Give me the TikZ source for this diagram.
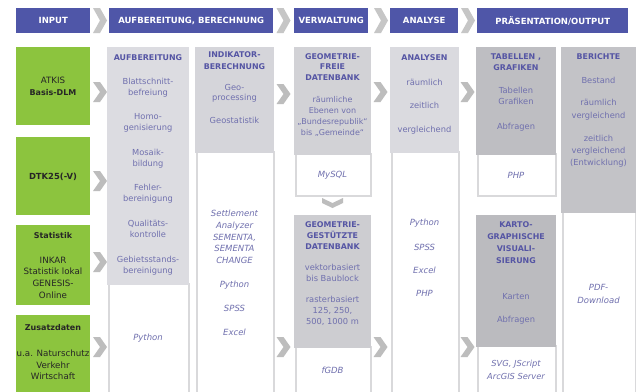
\documentclass[tikz,border=0pt]{standalone}
\usepackage{fontspec}
\setmainfont{DejaVu Sans}
\begin{document}
\begin{tikzpicture}[x=1pt,y=-1pt,
  hdr/.style={fill=hdrblue,text=white,font=\bfseries\fontsize{8.5}{10}\selectfont,inner sep=0pt,anchor=north west},
  grn/.style={fill=grgreen,inner sep=0pt,anchor=north west,minimum width=74pt},
  col/.style={inner sep=0pt,anchor=north west},
  wcol/.style={fill=white,draw=bordgray,line width=1.6pt,inner sep=0pt,anchor=north west},
  txt/.style={text=txtblue,font=\fontsize{8.3}{11.2}\selectfont,align=center,inner sep=0pt},
  ttl/.style={text=ttlblue,font=\bfseries\fontsize{7.9}{10.5}\selectfont,align=center,inner sep=0pt},
  itl/.style={text=txtblue,font=\itshape\fontsize{8.5}{12}\selectfont,align=center,inner sep=0pt},
  gtxt/.style={text=black!85,font=\fontsize{8.7}{11.7}\selectfont,align=center,inner sep=0pt},
  gttl/.style={text=black!85,font=\bfseries\fontsize{8}{11}\selectfont,align=center,inner sep=0pt},
  chev/.pic={\fill[chevgray] (-7,-10) -- (0,-10) -- (7,0) -- (0,10) -- (-7,10) -- (0,0) -- cycle;},
  bigchev/.pic={\fill[hchevgray] (-7,-12.5) -- (0,-12.5) -- (7,0) -- (0,12.5) -- (-7,12.5) -- (0,0) -- cycle;},
  downchev/.pic={\fill[chevgray] (-10.5,-5) -- (-10.5,0) -- (0,5) -- (10.5,0) -- (10.5,-5) -- (0,0) -- cycle;}
]
\definecolor{hdrblue}{HTML}{4F56A8}
\definecolor{grgreen}{HTML}{8CC43E}
\definecolor{txtblue}{HTML}{7070AE}
\definecolor{ttlblue}{HTML}{5555A4}
\definecolor{chevgray}{HTML}{BDBDBD}
\definecolor{hchevgray}{HTML}{C6C6C6}
\definecolor{bordgray}{HTML}{D9D9DB}
\definecolor{lg1}{HTML}{DCDCE1}
\definecolor{lg2}{HTML}{D5D5DA}
\definecolor{lg3}{HTML}{D2D2D6}
\definecolor{lg4}{HTML}{DADADF}
\definecolor{dg1}{HTML}{BEBEC2}
\definecolor{dg2}{HTML}{C3C3C7}
\definecolor{mg1}{HTML}{CDCDD1}
\definecolor{dg3}{HTML}{BBBBBF}

\clip (0,0) rectangle (636,391);
\fill[white] (0,0) rectangle (636,391);

% header
\node[hdr,minimum width=74pt,minimum height=25pt] (hIn) at (16,8) {INPUT};
\node[hdr,minimum width=164pt,minimum height=25pt] (hAuf) at (109,8) {AUFBEREITUNG, BERECHNUNG};
\node[hdr,minimum width=74pt,minimum height=25pt] (hVer) at (294,8) {VERWALTUNG};
\node[hdr,minimum width=68pt,minimum height=25pt] (hAna) at (390,8) {ANALYSE};
\node[hdr,minimum width=151pt,minimum height=25pt] (hPra) at (477,8) {PRÄSENTATION/OUTPUT};
\pic at (100,20.5) {bigchev};
\pic at (283.5,20.5) {bigchev};
\pic at (381,20.5) {bigchev};
\pic at (468,20.5) {bigchev};

% green input boxes
\node[grn,minimum height=78pt] (g1) at (16,47) {};
\node[grn,minimum height=78pt] (g2) at (16,137) {};
\node[grn,minimum height=80pt] (g3) at (16,225) {};
\node[grn,minimum height=80pt] (g4) at (16,315) {};
\node[gtxt] (g1t) at (53,86.5) {ATKIS\\{\bfseries\fontsize{8}{11}\selectfont Basis-DLM}};
\node[gttl,font=\bfseries\fontsize{8.4}{11}\selectfont] (g2t) at (53,177) {DTK25(-V)};
\node[gttl] (g3h) at (53,236) {Statistik};
\node[gtxt] (g3t) at (53,277.5) {INKAR\\Statistik lokal\\GENESIS-\\Online};
\node[gttl] (g4h) at (53,328) {Zusatzdaten};
\node[gtxt] (g4t) at (53,365) {u.a. Naturschutz\\Verkehr\\Wirtschaft};
\pic at (100,92) {chev};
\pic at (100,181) {chev};
\pic at (100,262) {chev};
\pic at (100,347) {chev};

% column AUFBEREITUNG
\node[wcol,minimum width=80pt,minimum height=120pt] (c1w) at (108,283) {};
\node[col,fill=lg1,minimum width=81.6pt,minimum height=238pt] (c1g) at (107.2,47) {};
\node[ttl] (c1h) at (148,58) {AUFBEREITUNG};
\node[txt] (c1a) at (148,87.5) {Blattschnitt-\\befreiung};
\node[txt] (c1b) at (148,122.5) {Homo-\\genisierung};
\node[txt] (c1c) at (148,159) {Mosaik-\\bildung};
\node[txt] (c1d) at (148,193.5) {Fehler-\\bereinigung};
\node[txt] (c1e) at (148,229) {Qualitäts-\\kontrolle};
\node[txt] (c1f) at (148,266) {Gebietsstands-\\bereinigung};
\node[itl] (c1p) at (148,338) {Python};

% column INDIKATOR
\node[wcol,minimum width=77pt,minimum height=250pt] (c2w) at (196,151) {};
\node[col,fill=lg2,minimum width=78.6pt,minimum height=106pt] (c2g) at (195.2,47) {};
\node[ttl,font=\bfseries\fontsize{7.9}{12}\selectfont] (c2h) at (234.5,61) {INDIKATOR-\\BERECHNUNG};
\node[txt,font=\fontsize{8.3}{10.5}\selectfont] (c2a) at (234.5,93.5) {Geo-\\processing};
\node[txt] (c2b) at (234.5,120) {Geostatistik};
\node[itl,font=\itshape\fontsize{8.5}{11.8}\selectfont] (c2c) at (234.5,237) {Settlement\\Analyzer\\SEMENTA,\\SEMENTA\\CHANGE};
\node[itl] (c2d) at (234.5,285) {Python};
\node[itl] (c2e) at (234.5,308) {SPSS};
\node[itl] (c2f) at (234.5,332) {Excel};
\pic at (283.5,94) {chev};
\pic at (283.5,347) {chev};

% column GEOMETRIE-FREIE
\node[wcol,minimum width=75pt,minimum height=42pt] (c3w) at (295,153) {};
\node[col,fill=lg3,minimum width=76.6pt,minimum height=108pt] (c3g) at (294.2,47) {};
\node[ttl] (c3h) at (332.5,67) {GEOMETRIE-\\FREIE\\DATENBANK};
\node[txt,font=\fontsize{8}{11}\selectfont] (c3a) at (332.5,116.5) {räumliche\\Ebenen von\\„Bundesrepublik“\\bis „Gemeinde“};
\node[itl] (c3m) at (332.5,175) {MySQL};
\pic at (332.5,203) {downchev};
\node[wcol,minimum width=75pt,minimum height=60pt] (c3w2) at (295,346) {};
\node[col,fill=mg1,minimum width=76.6pt,minimum height=133pt] (c3g2) at (294.2,215) {};
\node[ttl,font=\bfseries\fontsize{7.9}{11}\selectfont] (c3h2) at (332.5,236) {GEOMETRIE-\\GESTÜTZTE\\DATENBANK};
\node[txt] (c3b) at (332.5,273) {vektorbasiert\\bis Baublock};
\node[txt,font=\fontsize{8.3}{11}\selectfont] (c3c) at (332.5,311) {rasterbasiert\\125, 250,\\500, 1000 m};
\node[itl] (c3f) at (332.5,370) {fGDB};
\pic at (380.5,92) {chev};
\pic at (380.5,347) {chev};

% column ANALYSEN
\node[wcol,minimum width=67pt,minimum height=250pt] (c4w) at (391,151) {};
\node[col,fill=lg4,minimum width=68.6pt,minimum height=106pt] (c4g) at (390.2,47) {};
\node[ttl] (c4h) at (424.5,58) {ANALYSEN};
\node[txt] (c4a) at (424.5,82) {räumlich};
\node[txt] (c4b) at (424.5,105) {zeitlich};
\node[txt] (c4c) at (424.5,130) {vergleichend};
\node[itl] (c4d) at (424.5,223) {Python};
\node[itl] (c4e) at (424.5,247) {SPSS};
\node[itl] (c4f) at (424.5,270) {Excel};
\node[itl] (c4g2) at (424.5,293) {PHP};
\pic at (467.5,92) {chev};
\pic at (467.5,347) {chev};

% column TABELLEN / KARTO
\node[wcol,minimum width=78pt,minimum height=42pt] (c5w) at (477,153) {};
\node[col,fill=dg1,minimum width=79.6pt,minimum height=108pt] (c5g) at (476.2,47) {};
\node[ttl] (c5h) at (516,62) {TABELLEN ,\\GRAFIKEN};
\node[txt] (c5a) at (516,96) {Tabellen\\Grafiken};
\node[txt] (c5b) at (516,127) {Abfragen};
\node[itl] (c5p) at (516,175) {PHP};
\node[wcol,minimum width=78pt,minimum height=60pt] (c5w2) at (477,345) {};
\node[col,fill=dg3,minimum width=79.6pt,minimum height=132pt] (c5g2) at (476.2,215) {};
\node[ttl,font=\bfseries\fontsize{7.9}{12}\selectfont] (c5h2) at (516,243) {KARTO-\\GRAPHISCHE\\VISUALI-\\SIERUNG};
\node[txt] (c5c) at (516,297) {Karten};
\node[txt] (c5d) at (516,320) {Abfragen};
\node[itl,font=\itshape\fontsize{8.3}{12.5}\selectfont] (c5s) at (516,370) {SVG, JScript\\ArcGIS Server};

% column BERICHTE
\node[wcol,minimum width=73pt,minimum height=190pt] (c6w) at (562,211) {};
\node[col,fill=dg2,minimum width=74.6pt,minimum height=166pt] (c6g) at (561.2,47) {};
\node[ttl] (c6h) at (598.5,57) {BERICHTE};
\node[txt] (c6a) at (598.5,80) {Bestand};
\node[txt,font=\fontsize{8.3}{12.5}\selectfont] (c6b) at (598.5,109.5) {räumlich\\vergleichend};
\node[txt,font=\fontsize{8.3}{12}\selectfont] (c6c) at (598.5,151) {zeitlich\\vergleichend\\(Entwicklung)};
\node[itl,font=\itshape\fontsize{8.5}{13.5}\selectfont] (c6p) at (598.5,294) {PDF-\\Download};
\end{tikzpicture}
\end{document}
